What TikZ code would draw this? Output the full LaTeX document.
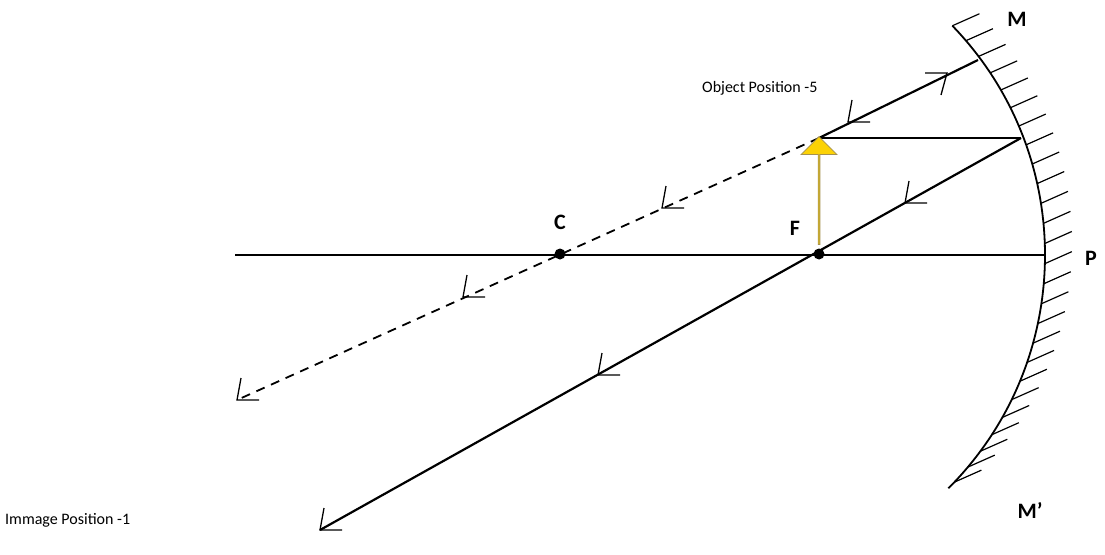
\documentclass[tikz,border=0pt]{standalone}
\usepackage{fontspec}
\setmainfont{Carlito}
\usetikzlibrary{calc,shapes.arrows}
\begin{document}
\begin{tikzpicture}[x=1pt,y=-1pt,
  ray/.style={line width=2.2pt},
  lbl/.style={font=\fontsize{22}{24}\selectfont\bfseries},
  txt/.style={font=\fontsize{16}{18}\selectfont, inner sep=0pt},
  dot/.style={circle,fill=black,inner sep=0pt,minimum size=11pt},
  harp/.pic={\draw[line width=1.3pt] (4,-22) -- (0,0) -- (22,0);},
  harpf/.pic={\draw[line width=1.3pt] (-22,0) -- (0,0) -- (-6,22);}]
\useasboundingbox (0,0) rectangle (1105,554);
\coordinate (O) at (715,255);
\coordinate (P) at (1045,255);
\coordinate (L) at (235,255);
\coordinate (T) at (819,138);
\coordinate (R1) at (1021,138);
\coordinate (Mm) at (978,60);
\coordinate (E1) at (320,530);
\coordinate (E2) at (237,400);
% mirror
\draw[line width=1.8pt] ($(O)+(-44:330)$) arc[start angle=-44,end angle=45,radius=330];
\foreach \a in {-44,-40.5,...,45} \draw[line width=1.2pt] ($(O)+(\a:330)$) -- ++(27,-12);
% axis
\draw[ray] (L) -- (P);
% rays
\draw[ray] (T) -- (R1);
\draw[ray] (R1) -- (E1);
\draw[ray] (T) -- (Mm);
\draw[line width=1.8pt,dash pattern=on 9pt off 7pt] (T) -- (E2);
% object arrow
\node[single arrow,draw=black!50!yellow!60!brown,fill=yellow!70!orange,shape border rotate=90,
  minimum height=108pt,minimum width=36pt,single arrow head extend=8pt,single arrow tip angle=90,
  inner sep=0pt,line width=0.8pt,anchor=south] (obj) at (819,245) {};
\node[dot] (C) at (560,254) {};
\node[dot] (F) at (819,254) {};
% arrow marks
\pic at (848,122) {harp};
\pic at (662,208) {harp};
\pic at (463,297) {harp};
\pic at (237,400) {harp};
\pic at (905,203) {harp};
\pic at (598,375) {harp};
\pic at (320,530) {harp};
\pic at (947,73) {harpf};
% labels
\node[lbl] (lM) at (1017,19) {M};
\node[lbl] (lM2) at (1030,510) {M’};
\node[lbl] (lP) at (1091,258) {P};
\node[lbl] (lC) at (560,222) {C};
\node[lbl] (lF) at (795,228) {F};
\node[txt,anchor=west] (ob) at (702,88) {Object Position -5};
\node[txt,anchor=west] (im) at (5,520) {Immage Position -1};
\end{tikzpicture}
\end{document}
